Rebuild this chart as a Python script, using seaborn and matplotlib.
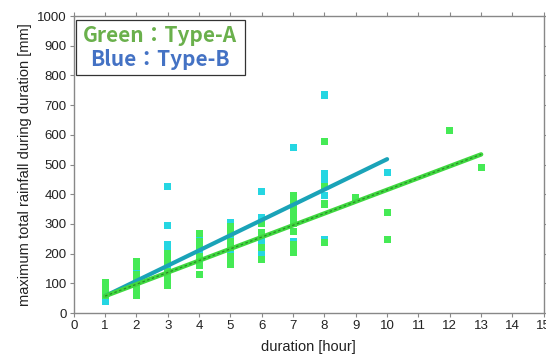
import numpy as np
import pandas as pd
import matplotlib
matplotlib.use("Agg")
import matplotlib.pyplot as plt
from matplotlib.patches import Rectangle
import seaborn as sns

# Type-A (green) observations
a_x = [1, 1, 1,
       2, 2, 2, 2, 2, 2, 2,
       3, 3, 3, 3, 3, 3,
       4, 4, 4, 4, 4, 4,
       5, 5, 5, 5, 5, 5,
       6, 6, 6, 6,
       7, 7, 7, 7, 7, 7, 7, 7,
       8, 8, 8, 8,
       9, 10, 10, 12, 13]
a_y = [102, 80, 58,
       173, 156, 130, 110, 90, 75, 58,
       200, 175, 140, 115, 100, 92,
       268, 240, 220, 190, 160, 130,
       290, 268, 240, 220, 190, 165,
       300, 270, 220, 180,
       394, 370, 347, 324, 302, 274, 229, 203,
       577, 425, 367, 237,
       388, 339, 247, 613, 490]

# Type-B (cyan) observations
b_x = [1, 1,
       2, 2, 2, 2, 2,
       3, 3, 3, 3, 3, 3, 3, 3, 3,
       4, 4, 4, 4,
       5, 5, 5, 5, 5,
       6, 6, 6, 6, 6, 6,
       7, 7, 7, 7,
       8, 8, 8, 8, 8, 8,
       10]
b_y = [60, 40,
       145, 120, 100, 85, 70,
       425, 295, 230, 210, 190, 170, 150, 130, 110,
       260, 240, 200, 180,
       305, 280, 250, 200, 170,
       410, 320, 265, 240, 200, 190,
       558, 375, 350, 240,
       734, 470, 455, 440, 397, 246,
       472]

# fitted regression lines (endpoints)
fit_a_x = [1, 13]
fit_a_y = [57, 534]
fit_b_x = [1, 10]
fit_b_y = [57, 518]

x_ticks = list(range(0, 16))
y_ticks = list(range(0, 1001, 100))

legend_lines = ["Green：Type-A", "Blue：Type-B"]

sns.set_theme(style="white")
plt.rcParams['font.family'] = ['Liberation Sans', 'DejaVu Sans']

fig = plt.figure(figsize=(5.46, 3.54), dpi=100)
ax = fig.add_axes([0.135, 0.1158, 0.861, 0.839])

dfa = pd.DataFrame({"x": a_x, "y": a_y})
dfb = pd.DataFrame({"x": b_x, "y": b_y})

sns.scatterplot(data=dfb, x="x", y="y", marker="s", s=26, color="#25d6e2",
                edgecolor="none", ax=ax, zorder=2)
sns.scatterplot(data=dfa, x="x", y="y", marker="s", s=26, color="#45ea55",
                edgecolor="none", ax=ax, zorder=3)

sns.lineplot(x=fit_b_x, y=fit_b_y, color="#1aa3b8", linewidth=3.0, ax=ax, zorder=4)
sns.lineplot(x=fit_a_x, y=fit_a_y, color="#3fd83f", linewidth=3.2, ax=ax, zorder=5)
sns.lineplot(x=fit_a_x, y=fit_a_y, color="#2a8a2a", linewidth=0.9, linestyle=(0, (2, 2)),
             ax=ax, zorder=6)

ax.set_xlim(0, 15)
ax.set_ylim(0, 1000)
ax.set_xticks(x_ticks)
ax.set_yticks(y_ticks)
ax.tick_params(axis="both", which="both", direction="out", length=3, width=0.8,
               colors="#888888", labelcolor="#222222", labelsize=9.5,
               top=True, right=True, bottom=True, left=True, pad=2)
for sp in ax.spines.values():
    sp.set_visible(True)
    sp.set_color("#888888")
    sp.set_linewidth(1.0)

ax.set_xlabel("duration [hour]", fontsize=10.5, color="#222222", labelpad=6)
ax.set_ylabel("maximum total rainfall during duration [mm]", fontsize=10.5,
              color="#222222", labelpad=4)

box = Rectangle((0.005, 0.801), 0.359, 0.186, transform=ax.transAxes,
                facecolor="white", edgecolor="#333333", linewidth=0.9, zorder=9)
ax.add_patch(box)
cjk = ['Noto Sans CJK JP', 'DejaVu Sans']
ax.text(0.184, 0.933, legend_lines[0], transform=ax.transAxes, ha="center", va="center",
        fontsize=15, fontweight="bold", family=cjk, color="#6ab04c", zorder=10)
ax.text(0.184, 0.852, legend_lines[1], transform=ax.transAxes, ha="center", va="center",
        fontsize=15, fontweight="bold", family=cjk, color="#4472c4", zorder=10)

fig.savefig("out.png", dpi=100)
